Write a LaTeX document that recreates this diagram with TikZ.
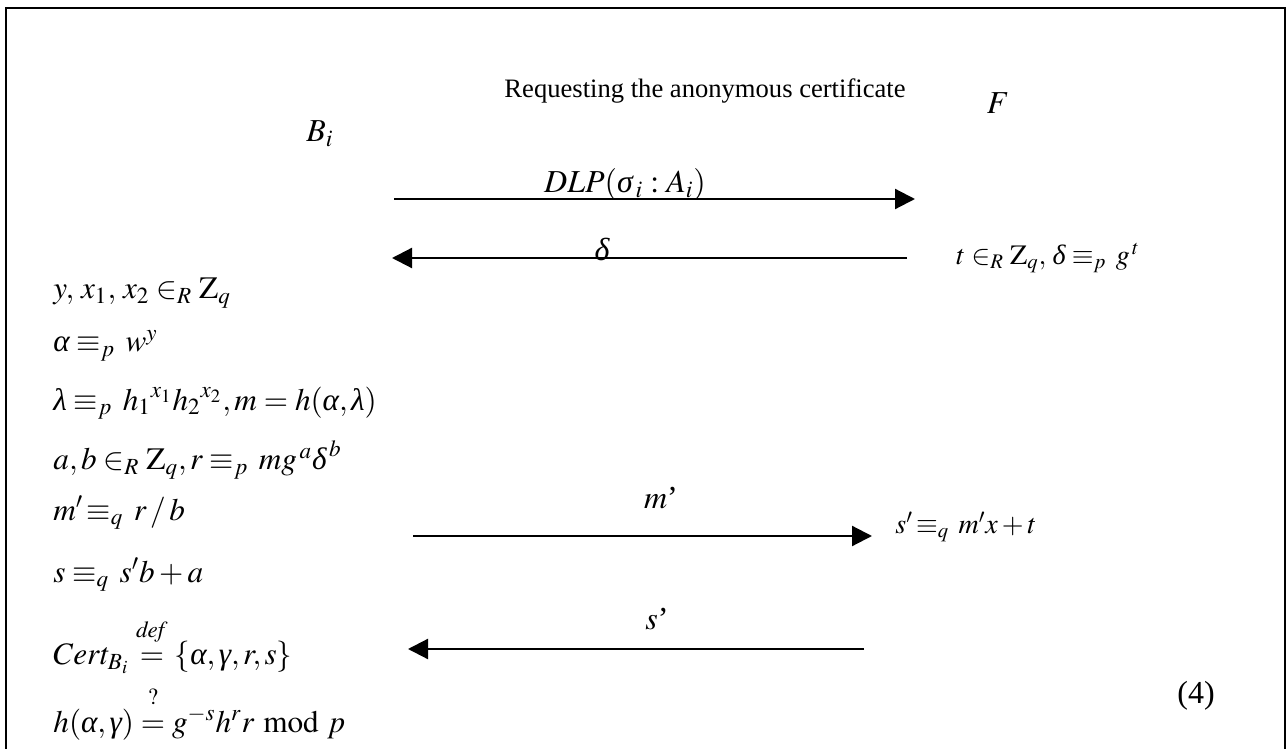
\documentclass[tikz,border=0pt]{standalone}
\usepackage{mathptmx}
\usepackage{amsmath}
\usepackage{fontspec}
\setmainfont{Liberation Serif}
\usetikzlibrary{arrows.meta}
% italic Greek from the text font
\newcommand{\gk}[1]{\text{\itshape #1}}
\newcommand{\upon}[2]{\overset{\raisebox{5pt}{$\scriptstyle #1$}}{#2}}

\begin{document}
\begin{tikzpicture}[x=0.5pt, y=-0.5pt,
    eqn/.style={font=\fontsize{16}{19}\selectfont, inner sep=0pt},
    small eqn/.style={font=\fontsize{14}{17}\selectfont, inner sep=0pt},
    lcol/.style={inner sep=0pt, anchor=west, font=\fontsize{15.6}{19}\selectfont},
    msg/.style={line width=1.1pt, -{Triangle[length=10pt,width=10pt]}}]
  \useasboundingbox (0,0) rectangle (1287,749);

  % Frame
  \draw[line width=1pt] (6,749) -- (6,8) -- (1285,8) -- (1285,749);

  % Title and parties
  \node[inner sep=0pt, font=\fontsize{13.3}{16}\selectfont] (title) at (705,91) {Requesting the anonymous certificate};
  \node[eqn] (partyF) at (998,103) {$F$};
  \node[eqn] (partyB) at (320,134) {$B_i$};

  % First exchange
  \coordinate (dlpL) at (394,199);
  \coordinate (dlpR) at (915,199);
  \draw[msg] (dlpL) -- (dlpR);
  \node[eqn] (dlp) at (625,185) {$DLP(\gk{σ}_{\,i} : A_i)$};

  \coordinate (deltaR) at (907,258);
  \coordinate (deltaL) at (392,258);
  \draw[msg] (deltaR) -- (deltaL);
  \node[eqn, anchor=base] (delta) at (602,261) {$\gk{δ}$};
  \node[small eqn, anchor=west] (chalF) at (956,258) {$t \in_R \mathrm{Z}_q ,\, \gk{δ} \equiv_p\, g^{\,t}$};

  % Computations of B_i
  \node[lcol] (eqY) at (53,293) {$y,\, x_1,\, x_2 \in_R \mathrm{Z}_q$};
  \node[lcol] (eqAlpha) at (53,346) {$\gk{α} \equiv_p\, w^y$};
  \node[lcol] (eqLambda) at (53,403) {$\gk{λ} \equiv_p\, {h_1}^{x_1} {h_2}^{x_2} , m = h(\gk{α} , \gk{λ})$};
  \node[lcol] (eqAB) at (53,460) {$a,b \in_R \mathrm{Z}_q , r \equiv_p\, m g^{\,a} \gk{δ}^{\,b}$};
  \node[lcol] (eqM) at (53,513) {$m' \!\equiv_q\, r \,/\, b$};
  \node[lcol] (eqS) at (53,575) {$s \equiv_q\, s' b + a$};
  \node[lcol] (eqCert) at (53,646) {$Cert_{B_i} \upon{\mathit{def}}{=} \{\gk{α} , \gk{γ} , r , s\}$};
  \node[lcol] (eqCheck) at (53,713) {$h(\gk{α} , \gk{γ}) \upon{?}{=} g^{-s} h^{r} r \bmod p$};

  % Second exchange
  \coordinate (mL) at (413,536);
  \coordinate (mR) at (872,536);
  \draw[msg] (mL) -- (mR);
  \node[eqn] (mlabel) at (661,498) {$m$\textquoteright};
  \node[small eqn, anchor=west] (respF) at (895,527) {$s' \!\equiv_q\, m' x + t$};

  \coordinate (sR) at (864,649);
  \coordinate (sL) at (408,649);
  \draw[msg] (sR) -- (sL);
  \node[eqn] (slabel) at (657,619) {$s$\textquoteright};

  % Equation number
  \node[eqn] (eqnum) at (1196,696) {(4)};
\end{tikzpicture}
\end{document}
